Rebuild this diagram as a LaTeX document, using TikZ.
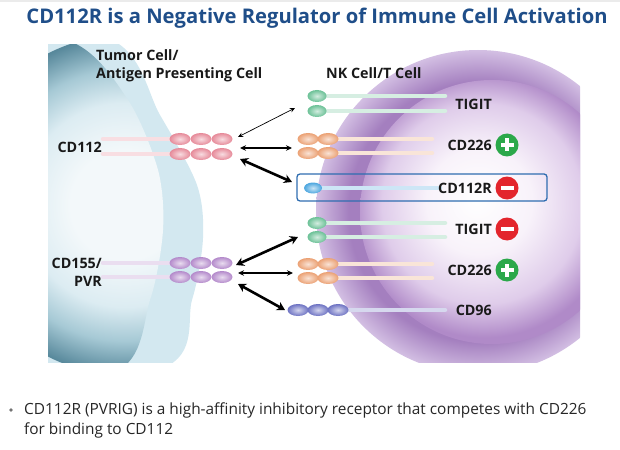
\documentclass[tikz,border=0pt]{standalone}
\usepackage{fontspec}
\setmainfont{Open Sans}
\usepackage{tikz}
\usetikzlibrary{arrows.meta}
\usetikzlibrary{shapes.geometric}

\definecolor{titleblue}{HTML}{1F4E89}
\definecolor{boxblue}{HTML}{2F6DB0}
\definecolor{plusgreen}{HTML}{2BA84A}
\definecolor{minusred}{HTML}{E3252C}
\definecolor{memb}{HTML}{D3E8F0}
\definecolor{tmcore}{HTML}{F3F8FA}
\definecolor{tmlight}{HTML}{DCECF2}
\definecolor{tmmid}{HTML}{A6C9D5}
\definecolor{tmedge}{HTML}{56879A}
\definecolor{nkouter}{HTML}{D3BFE3}
\definecolor{nkringc}{HTML}{A47FBF}
\definecolor{nkcore}{HTML}{F8F2FA}
\definecolor{nkmid}{HTML}{DFCCEA}
\definecolor{nkedge}{HTML}{B08AC8}
\definecolor{pinkbead}{HTML}{E68A99}
\definecolor{violetbead}{HTML}{B48ACB}
\definecolor{tigitbead}{HTML}{6CC197}
\definecolor{orangebead}{HTML}{EBA174}
\definecolor{rbead}{HTML}{4CA6DF}
\definecolor{cdbead}{HTML}{6E73C3}

\pgfdeclareradialshading{tumorball}{\pgfpoint{0bp}{0bp}}{color(0bp)=(tmcore); color(8bp)=(tmcore); color(15bp)=(tmlight); color(20bp)=(tmmid); color(25bp)=(tmedge); color(50bp)=(tmedge)}
\pgfdeclareradialshading{nkring}{\pgfpoint{0bp}{0bp}}{color(0bp)=(nkringc); color(20bp)=(nkringc); color(25bp)=(nkouter); color(50bp)=(nkouter)}
\pgfdeclareradialshading{nkball}{\pgfpoint{-3bp}{2.5bp}}{color(0bp)=(white); color(10bp)=(nkcore); color(19bp)=(nkmid); color(25bp)=(nkedge); color(50bp)=(nkedge)}

\begin{document}
\begin{tikzpicture}[x=1pt,y=-1pt,
    lbl/.style={font=\bfseries\fontsize{14.3}{18}\selectfont, text=black!90, inner sep=0pt},
    bead/.style={ellipse, minimum width=21pt, minimum height=12pt, inner sep=0pt, shade, inner color=#1!30!white, outer color=#1},
    stalk/.style={draw=#1!28!white, line width=4.5pt, line cap=round},
    plus/.style={circle, minimum size=23pt, inner sep=0pt, fill=plusgreen, path picture={
        \fill[white] (path picture bounding box.center) ++(-6.5,-2) rectangle ++(13,4);
        \fill[white] (path picture bounding box.center) ++(-2,-6.5) rectangle ++(4,13);}},
    minus/.style={circle, minimum size=23pt, inner sep=0pt, fill=minusred, path picture={
        \fill[white] (path picture bounding box.center) ++(-6.5,-2.2) rectangle ++(13,4.4);}},
    arrthin/.style={<->, >={Stealth[length=5pt,width=4.5pt]}, line width=0.7pt},
    arrmid/.style={<->, >={Stealth[length=6pt,width=5.5pt]}, line width=1.3pt},
    arrthick/.style={<->, >={Stealth[length=8pt,width=9pt]}, line width=2.6pt}]
  \useasboundingbox (0,0) rectangle (620,449);
  \draw[black!8, line width=2pt] (0,1) -- (620,1);

  \begin{scope}
    \clip (48,45) rectangle (580,362);
    % tumour cell
    \fill[memb] plot[smooth cycle] coordinates {(-60,10) (112,40) (160,115) (197,185) (203,238) (192,300) (163,368) (-60,400)};
    \begin{scope}
      \clip plot[smooth cycle] coordinates {(-60,20) (72,42) (128,100) (158,170) (163,230) (150,300) (115,372) (-60,390)};
      \shade[shading=tumorball] (125,205) circle[radius=170];
    \end{scope}
    % nk cell
    \shade[shading=nkring] (478,212) circle[radius=162];
    \shade[shading=nkball] (492,212) circle[radius=132];
  \end{scope}

  \node[font=\bfseries\fontsize{20.2}{24}\selectfont, text=titleblue, inner sep=0pt] (title) at (317,18) {CD112R is a Negative Regulator of Immune Cell Activation};
  \node[lbl, anchor=west, align=left] (tumor) at (96,66) {Tumor Cell/\\Antigen Presenting Cell};
  \node[lbl, anchor=west] (nk) at (326,73) {NK Cell/T Cell};

  % ligands
  \foreach \y/\c/\n in {139/pinkbead/pa,154/pinkbead/pb,263/violetbead/va,277/violetbead/vb}{
    \draw[stalk=\c] (103,\y) -- (178,\y);
    \node[bead=\c] (\n1) at (180,\y) {};
    \node[bead=\c] (\n2) at (201,\y) {};
    \node[bead=\c] (\n3) at (222,\y) {};
  }
  \node[lbl, anchor=east] (cd112) at (102,147) {CD112};
  \node[lbl, anchor=east, align=right] (cd155) at (102,272) {CD155/\\PVR};

  % receptors
  \draw[stalk=tigitbead] (320,96) -- (445,96);
  \draw[stalk=tigitbead] (320,111) -- (445,111);
  \node[bead=tigitbead, minimum width=19pt] (ta) at (317,96) {};
  \node[bead=tigitbead, minimum width=19pt] (tb) at (317,111) {};
  \node[lbl, anchor=east] (tigit) at (492,104) {TIGIT};

  \draw[stalk=orangebead] (330,139) -- (432,139);
  \draw[stalk=orangebead] (330,153) -- (432,153);
  \node[bead=orangebead] (oa1) at (308,139) {};
  \node[bead=orangebead] (oa2) at (328,139) {};
  \node[bead=orangebead] (ob1) at (308,153) {};
  \node[bead=orangebead] (ob2) at (328,153) {};
  \node[lbl, anchor=east] (cd226) at (492,145) {CD226};
  \node[plus] (pl1) at (507,145) {};

  \draw[stalk=rbead] (315,188) -- (440,188);
  \node[bead=rbead, minimum width=18pt, minimum height=11pt] (ra) at (313,188) {};
  \node[lbl, anchor=east] (cd112r) at (492,188) {CD112R};
  \node[minus] (mi1) at (507,188) {};
  \node[draw=boxblue, line width=1.3pt, rounded corners=3pt, minimum width=250pt, minimum height=27pt, inner sep=0pt] (box) at (422,187.5) {};

  \draw[stalk=tigitbead] (320,223) -- (445,223);
  \draw[stalk=tigitbead] (320,237) -- (445,237);
  \node[bead=tigitbead, minimum width=19pt] (tc) at (317,223) {};
  \node[bead=tigitbead, minimum width=19pt] (td) at (317,237) {};
  \node[lbl, anchor=east] (tigitb) at (492,229) {TIGIT};
  \node[minus] (mi2) at (507,229) {};

  \draw[stalk=orangebead] (330,264) -- (432,264);
  \draw[stalk=orangebead] (330,278) -- (432,278);
  \node[bead=orangebead] (oc1) at (308,264) {};
  \node[bead=orangebead] (oc2) at (328,264) {};
  \node[bead=orangebead] (od1) at (308,278) {};
  \node[bead=orangebead] (od2) at (328,278) {};
  \node[lbl, anchor=east] (cd226b) at (492,270) {CD226};
  \node[plus] (pl2) at (507,270) {};

  \draw[stalk=cdbead] (340,310) -- (445,310);
  \node[bead=cdbead] (ca1) at (298,310) {};
  \node[bead=cdbead] (ca2) at (318,310) {};
  \node[bead=cdbead] (ca3) at (338,310) {};
  \node[lbl, anchor=east] (cd96) at (492,310) {CD96};

  % binding arrows
  \coordinate (a1) at (238,137);
  \coordinate (b1) at (295,108);
  \coordinate (a2) at (240,148);
  \coordinate (b2) at (292,148);
  \coordinate (a3) at (240,159);
  \coordinate (b3) at (292,182);
  \coordinate (a4) at (236,265);
  \coordinate (b4) at (298,237);
  \coordinate (a5) at (238,273);
  \coordinate (b5) at (293,273);
  \coordinate (a6) at (238,284);
  \coordinate (b6) at (285,310);
  \draw[arrthin] (a1) -- (b1);
  \draw[arrmid] (a2) -- (b2);
  \draw[arrthick] (a3) -- (b3);
  \draw[arrthick] (a4) -- (b4);
  \draw[arrmid] (a5) -- (b5);
  \draw[arrthick] (a6) -- (b6);

  \node[circle, fill=black!55, inner sep=1.3pt] (dot) at (11,410) {};
  \node[anchor=west, align=left, font=\fontsize{15.4}{20}\selectfont, text=black!85, inner sep=0pt] (note) at (24,420) {CD112R (PVRIG) is a high-affinity inhibitory receptor that competes with CD226\\for binding to CD112};
\end{tikzpicture}
\end{document}
